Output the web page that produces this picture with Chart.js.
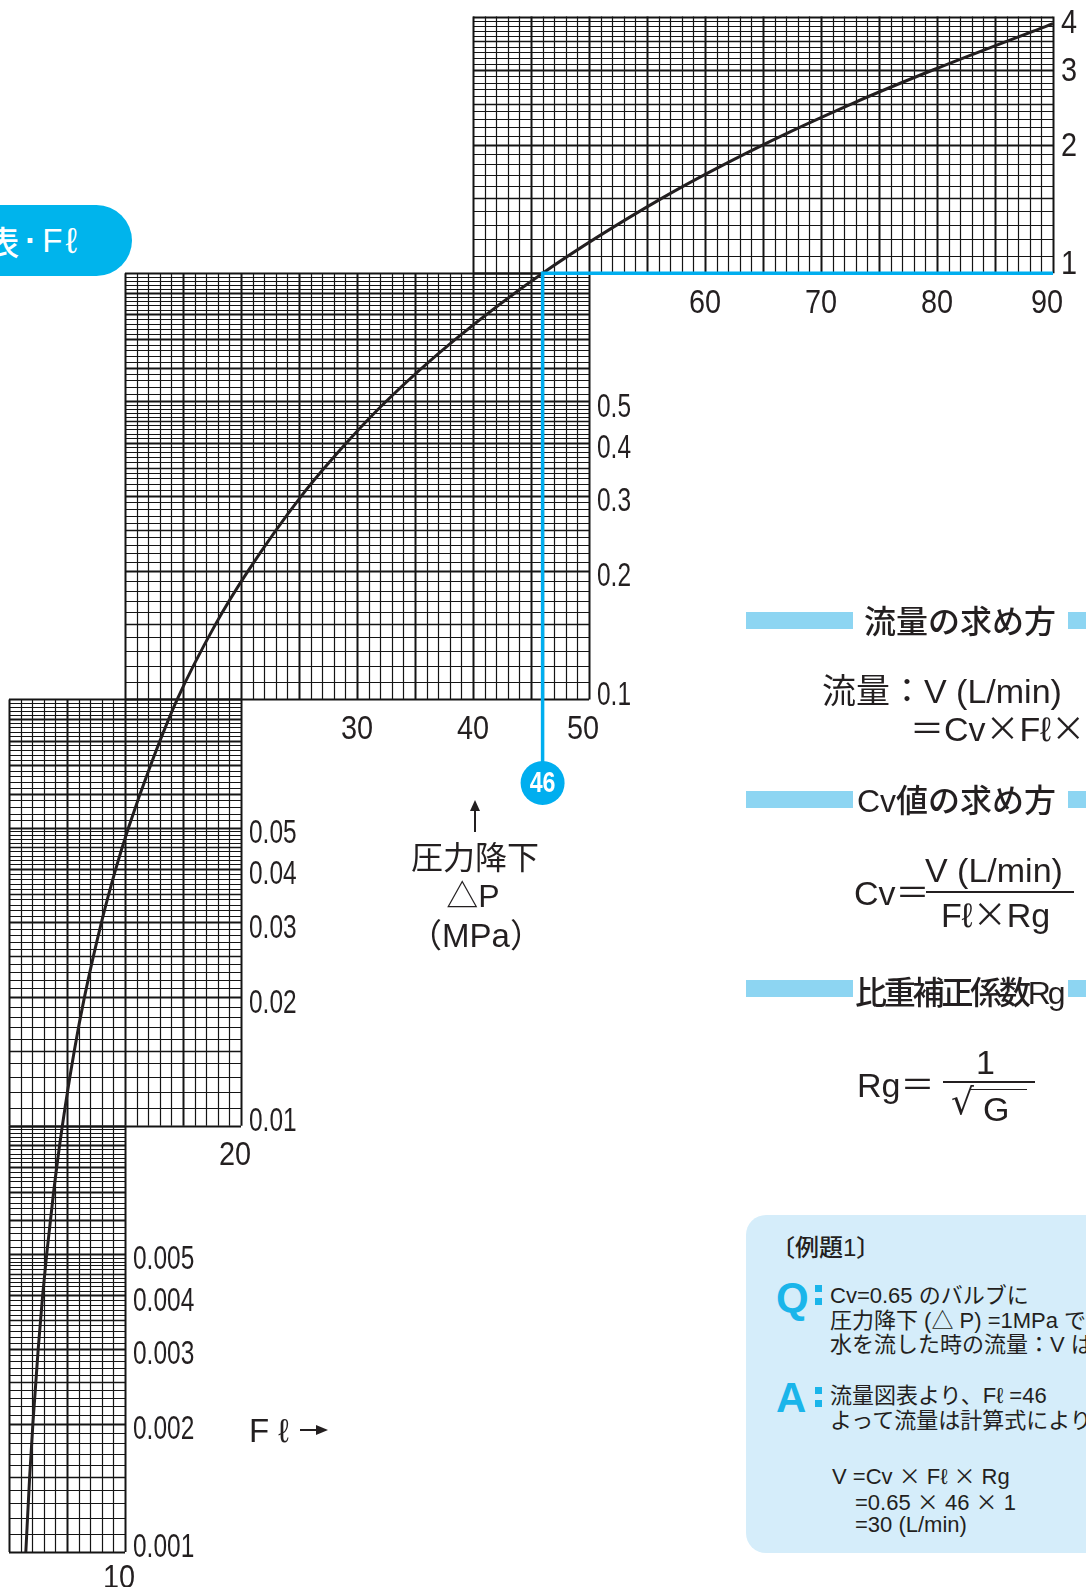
<!DOCTYPE html>
<html lang="ja">
<head>
<meta charset="utf-8">
<title>流量図表・Fℓ</title>
<script src="https://cdn.jsdelivr.net/npm/chart.js@4.4.1/dist/chart.umd.min.js"></script>
<style>
  html, body { margin: 0; padding: 0; background: #fff; }
  body { width: 1086px; height: 1587px; position: relative; overflow: hidden;
         font-family: "Liberation Sans", "Noto Sans CJK JP", sans-serif; color: #231f20; }
  #chart { position: absolute; left: 0; top: 0; }
  .t { position: absolute; white-space: nowrap; line-height: 1; transform: translateY(-50%); }
  .c { transform: translate(-50%, -50%); }
  .j { font-family: "Noto Sans CJK JP", sans-serif; }
  .bar { position: absolute; background: #8dd5f2; height: 17px; }
  .pill { position: absolute; left: -150px; top: 205px; width: 282px; height: 71px;
          border-radius: 36px; background: #00b4ec; color: #fff; font-size: 33px; font-weight: 500;
          display: flex; align-items: center; justify-content: flex-end;
          padding-right: 55px; box-sizing: border-box; }
  .h { font-size: 32px; font-weight: 500; }
  .f { font-size: 34px; }
  .box { position: absolute; left: 746px; top: 1215px; width: 380px; height: 338px;
         border-radius: 20px; background: #d5edfa; }
  .s { font-size: 22px; }
  .big { font-size: 42px; font-weight: bold; color: #1ab5ea; font-family: "Liberation Sans", sans-serif; }
  .dot { position: absolute; width: 7px; height: 7px; background: #1ab5ea; }
  .line { position: absolute; height: 2px; background: #231f20; }
  .vline { position: absolute; width: 2px; background: #231f20; }
  .head-up { position: absolute; width: 0; height: 0; border-left: 5px solid transparent;
             border-right: 5px solid transparent; border-bottom: 11px solid #231f20; }
  .head-right { position: absolute; width: 0; height: 0; border-top: 5px solid transparent;
                border-bottom: 5px solid transparent; border-left: 12px solid #231f20; }
</style>
</head>
<body>
<canvas id="chart" width="1086" height="1587"></canvas>

<div class="pill">流量図表<span style="font-family:'Liberation Sans';font-weight:bold;margin:0 6px;">·</span>F<span style="font-size:36px;margin-left:3px;">ℓ</span></div>

<div class="bar" style="left:746px; top:612px; width:107px;"></div>
<div class="t h" style="left:864px; top:622px;">流量の求め方</div>
<div class="bar" style="left:1068px; top:612px; width:18px;"></div>
<div class="t f" style="left:822px; top:690px;"><span class="j">流量：</span>V (L/min)</div>
<div class="t f" style="left:910px; top:728px;"><span class="j">＝</span>Cv<span class="j">×</span>Fℓ<span class="j">×</span>Rg</div>

<div class="bar" style="left:746px; top:791px; width:107px;"></div>
<div class="t h" style="left:857px; top:801px;">Cv値の求め方</div>
<div class="bar" style="left:1068px; top:791px; width:18px;"></div>
<div class="t f" style="left:854px; top:892px;">Cv<span class="j">＝</span></div>
<div class="t f" style="left:925px; top:870px;">V (L/min)</div>
<div class="line" style="left:926px; top:891px; width:148px;"></div>
<div class="t f" style="left:941px; top:914px;">Fℓ<span class="j">×</span>Rg</div>

<div class="bar" style="left:746px; top:980px; width:107px;"></div>
<div class="t h" style="left:855px; top:993px; letter-spacing:-3.2px;">比重補正係数Rg</div>
<div class="bar" style="left:1068px; top:980px; width:18px;"></div>
<div class="t f" style="left:857px; top:1084px;">Rg<span class="j">＝</span></div>
<div class="t f" style="left:976px; top:1062px;">1</div>
<div class="line" style="left:943px; top:1081px; width:92px;"></div>
<div class="t" style="left:951px; top:1102px; font-size:36px; font-family:'DejaVu Sans';">√</div>
<div class="line" style="left:970px; top:1089px; width:57px; height:1px;"></div>
<div class="t f" style="left:983px; top:1109px;">G</div>

<div class="box"></div>
<div class="t s" style="left:771px; top:1248px; font-size:24px; font-weight:500;">〔例題1〕</div>
<div class="t big" style="left:776px; top:1298px;">Q</div>
<div class="dot" style="left:815px; top:1285px;"></div>
<div class="dot" style="left:815px; top:1298px;"></div>
<div class="t s" style="left:830px; top:1296px;">Cv=0.65 のバルブに</div>
<div class="t s" style="left:830px; top:1321px;">圧力降下 (△ P) =1MPa で</div>
<div class="t s" style="left:830px; top:1345px;">水を流した時の流量：V は？</div>
<div class="t big" style="left:776px; top:1398px;">A</div>
<div class="dot" style="left:815px; top:1387px;"></div>
<div class="dot" style="left:815px; top:1400px;"></div>
<div class="t s" style="left:830px; top:1396px;">流量図表より、Fℓ =46</div>
<div class="t s" style="left:830px; top:1421px;">よって流量は計算式により、</div>
<div class="t s" style="left:832px; top:1475px;">V =Cv <span class="j">×</span> Fℓ <span class="j">×</span> Rg</div>
<div class="t s" style="left:855px; top:1501px;">=0.65 <span class="j">×</span> 46 <span class="j">×</span> 1</div>
<div class="t s" style="left:855px; top:1525px;">=30 (L/min)</div>

<div class="vline" style="left:474px; top:808px; height:24px;"></div>
<div class="head-up" style="left:470px; top:800px;"></div>
<div class="t c f" style="left:475px; top:858px; font-size:32px;">圧力降下</div>
<div class="t c f" style="left:473px; top:896px; font-size:32px;">△P</div>
<div class="t c f" style="left:476px; top:935px; font-size:33px;">（MPa）</div>
<div class="t f" style="left:249px; top:1430px; font-size:33px;">F ℓ</div>
<div class="line" style="left:300px; top:1429px; width:18px;"></div>
<div class="head-right" style="left:316px; top:1425px;"></div>

<script>
// curve: pressure drop (MPa) vs Fl
var pressureDrop = [0.001, 0.0015, 0.002, 0.003, 0.004, 0.005, 0.007, 0.01, 0.015, 0.02, 0.03, 0.04,
  0.05, 0.07, 0.1, 0.15, 0.2, 0.3, 0.4, 0.5, 0.7, 1, 1.5, 2, 2.5, 3, 3.85];
var flValues = [1.45, 1.78, 2.06, 2.52, 2.9, 3.25, 3.85, 4.6, 5.63, 6.5, 7.97, 9.2,
  10.3, 12.2, 14.5, 17.8, 20.6, 25.2, 29.1, 32.5, 38.5, 46, 56.3, 65, 72.7, 79.7, 90];

// stepped grid panels: Fl range and pressure range of each block
var panelFl = [[0, 10], [0, 20], [10, 50], [40, 90]];
var panelDp = [[0.001, 0.01], [0.01, 0.1], [0.1, 1], [1, 4]];
var panelFlTicks = [[10], [20], [30, 40, 50], [60, 70, 80, 90]];
var panelDpTicks = [
  ["0.001", "0.002", "0.003", "0.004", "0.005"],
  ["0.01", "0.02", "0.03", "0.04", "0.05"],
  ["0.1", "0.2", "0.3", "0.4", "0.5"],
  ["1", "2", "3", "4"]
];
var exampleFl = 46;
var exampleDp = 1;

var points = [];
for (var i = 0; i < flValues.length; i++) {
  points.push({ x: flValues[i], y: pressureDrop[i] });
}

var blue = "#00aeef";
var labelFont = '34px "Liberation Sans", sans-serif';

// log paper rulings inside one decade
function mantissas() {
  var m = [];
  for (var a = 10; a <= 50; a++) m.push(a / 10);
  for (var b = 52; b <= 100; b += 2) m.push(b / 10);
  return m;
}

// condensed text, like the printed labels
function narrowText(ctx, txt, x, y, sx) {
  ctx.save();
  ctx.translate(x, y);
  ctx.scale(sx, 1);
  ctx.fillText(txt, 0, 0);
  ctx.restore();
}

var gridPlugin = {
  id: "steppedGrid",
  beforeDatasetsDraw: function(chart) {
    var ctx = chart.ctx, xs = chart.scales.x, ys = chart.scales.y;
    var ms = mantissas();
    ctx.save();
    ctx.strokeStyle = "#141414";
    for (var p = 0; p < panelFl.length; p++) {
      var xl = xs.getPixelForValue(panelFl[p][0]), xr = xs.getPixelForValue(panelFl[p][1]);
      var yb = ys.getPixelForValue(panelDp[p][0]), yt = ys.getPixelForValue(panelDp[p][1]);
      // vertical lines, one per Fl unit
      for (var v = panelFl[p][0]; v <= panelFl[p][1]; v++) {
        var px = Math.round(xs.getPixelForValue(v)) + 0.5;
        ctx.lineWidth = (v % 5 === 0) ? 2 : 1.2;
        ctx.beginPath(); ctx.moveTo(px, yt); ctx.lineTo(px, yb); ctx.stroke();
      }
      // horizontal log lines
      var dec = panelDp[p][0];
      for (var k = 0; k < ms.length; k++) {
        var val = ms[k] * dec;
        if (val > panelDp[p][1] * 1.0001) break;
        var py = Math.round(ys.getPixelForValue(val)) + 0.5;
        var mm = ms[k];
        ctx.lineWidth = (Math.abs(mm - Math.round(mm)) < 1e-6) ? 2 : (Math.abs(mm * 2 - Math.round(mm * 2)) < 1e-6 ? 1.6 : 1.2);
        ctx.beginPath(); ctx.moveTo(xl, py); ctx.lineTo(xr, py); ctx.stroke();
      }
    }
    ctx.restore();
  },
  afterDatasetsDraw: function(chart) {
    var ctx = chart.ctx, xs = chart.scales.x, ys = chart.scales.y;
    ctx.save();
    // example reading: Fl = 46 at 1 MPa
    var ex = xs.getPixelForValue(exampleFl), ey = ys.getPixelForValue(exampleDp);
    var circleY = 783;
    ctx.strokeStyle = blue;
    ctx.lineWidth = 3.5;
    ctx.beginPath();
    ctx.moveTo(xs.getPixelForValue(panelFl[3][1]), ey);
    ctx.lineTo(ex, ey);
    ctx.lineTo(ex, circleY);
    ctx.stroke();
    ctx.fillStyle = blue;
    ctx.beginPath(); ctx.arc(ex, circleY, 22, 0, Math.PI * 2); ctx.fill();
    ctx.fillStyle = "#fff";
    ctx.font = 'bold 29px "Liberation Sans", sans-serif';
    ctx.textAlign = "center"; ctx.textBaseline = "middle";
    narrowText(ctx, String(exampleFl), ex, circleY + 1, 0.8);

    // tick labels for each panel
    ctx.fillStyle = "#231f20";
    ctx.font = labelFont;
    for (var p = 0; p < panelFl.length; p++) {
      var xr = xs.getPixelForValue(panelFl[p][1]);
      var yb = ys.getPixelForValue(panelDp[p][0]), yt = ys.getPixelForValue(panelDp[p][1]);
      ctx.textAlign = "left"; ctx.textBaseline = "middle";
      var labs = panelDpTicks[p];
      var off = p < 3 ? 6 : 2;
      for (var j = 0; j < labs.length; j++) {
        var py = ys.getPixelForValue(parseFloat(labs[j]));
        py = Math.max(Math.min(py + off, yb - 4), yt + 7);
        if (p === 3 && j === 0) py = yb - 9;
        narrowText(ctx, labs[j], xr + 8, py, p < 3 ? 0.72 : 0.85);
      }
      ctx.textAlign = "center";
      var xt = panelFlTicks[p];
      for (var q = 0; q < xt.length; q++) {
        var px = Math.min(xs.getPixelForValue(xt[q]), xr - 6);
        narrowText(ctx, String(xt[q]), px, yb + (p === 0 ? 27 : 30), 0.85);
      }
    }
    ctx.restore();
  }
};

new Chart(document.getElementById("chart"), {
  type: "line",
  data: {
    datasets: [{
      label: "Fℓ",
      data: points,
      borderColor: "#231f20",
      borderWidth: 3,
      pointRadius: 0,
      fill: false,
      cubicInterpolationMode: "monotone"
    }]
  },
  options: {
    responsive: false,
    animation: false,
    devicePixelRatio: 1,
    layout: { padding: { left: 9, right: 33, top: 16.5, bottom: 35 } },
    scales: {
      x: { type: "linear", min: 0, max: 90, display: false },
      y: { type: "logarithmic", min: 0.001, max: 4, display: false }
    },
    plugins: { legend: { display: false }, tooltip: { enabled: false } }
  },
  plugins: [gridPlugin]
});
</script>
</body>
</html>
